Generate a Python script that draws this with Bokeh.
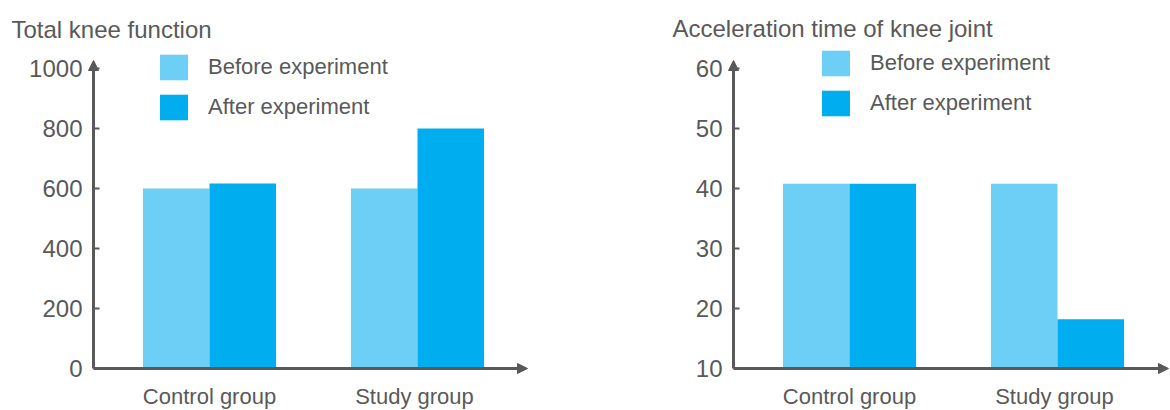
from bokeh.plotting import figure
from bokeh.layouts import row
from bokeh.models import (Range1d, FixedTicker, Arrow, NormalHead, Label, Legend,
                          LegendItem, ColumnDataSource)
from bokeh.transform import dodge
from bokeh.embed import file_html
from bokeh.resources import INLINE

# ---------------- data ----------------
categories = ["Control group", "Study  group"]
series = ["Before experiment", "After experiment"]
knee_before = [600, 600]
knee_after = [617, 800]
accel_before = [40.8, 40.8]
accel_after = [40.8, 18.2]
knee_ticks = [0, 200, 400, 600, 800, 1000]
accel_ticks = [10, 20, 30, 40, 50, 60]
titles = ["Total knee function", "Acceleration time of knee joint"]

# ---------------- style / layout ----------------
GRAY = "#595959"
C_BEFORE = "#6DCFF6"
C_AFTER = "#00AEEF"
FONT = "Liberation Sans"
H = 410
BASE_PY = 368          # pixel row of the category axis
PX_PER_CAT = 208.0
CAT0_OFFSET = 116.0    # px from value axis to first category centre


def make_chart(title, before, after, ticks, width, axis_px, px_per_unit,
               arrow_tip_py, arrow_tip_px, legend_xy, title_xy):
    # whole canvas is the frame; axes are placed with fixed_location
    cat0_px = axis_px + CAT0_OFFSET
    x0 = -cat0_px / PX_PER_CAT
    x1 = (width - cat0_px) / PX_PER_CAT
    ybase = ticks[0]
    y0 = ybase - (H - BASE_PY) / px_per_unit
    y1 = ybase + BASE_PY / px_per_unit
    xa = -CAT0_OFFSET / PX_PER_CAT  # value-axis position in data units

    p = figure(width=width, height=H, output_backend="svg", toolbar_location=None,
               x_range=Range1d(x0, x1), y_range=Range1d(y0, y1),
               min_border=0, min_border_left=0, min_border_right=0,
               min_border_top=0, min_border_bottom=0)
    p.outline_line_color = None
    p.xgrid.visible = False
    p.ygrid.visible = False
    p.background_fill_color = "white"
    p.border_fill_color = "white"

    idx = list(range(len(categories)))
    src = ColumnDataSource(dict(x=idx, before=before, after=after))
    r1 = p.vbar(x=dodge("x", -0.16, range=p.x_range), top="before", bottom=ybase,
                width=0.32, source=src, fill_color=C_BEFORE, line_color=None)
    r2 = p.vbar(x=dodge("x", 0.16, range=p.x_range), top="after", bottom=ybase,
                width=0.32, source=src, fill_color=C_AFTER, line_color=None)

    # value axis
    yax = p.yaxis[0]
    yax.fixed_location = xa
    yax.ticker = FixedTicker(ticks=ticks)
    yax.axis_line_color = None
    yax.major_tick_in = 6
    yax.major_tick_out = 0
    yax.major_tick_line_width = 2
    yax.major_tick_line_color = GRAY
    yax.minor_tick_line_color = None
    yax.major_label_standoff = 11
    yax.major_label_text_font = FONT
    yax.major_label_text_font_size = "24px"
    yax.major_label_text_color = GRAY

    # category axis
    xax = p.xaxis[0]
    xax.fixed_location = ybase
    xax.ticker = FixedTicker(ticks=idx)
    xax.major_label_overrides = {i: c for i, c in enumerate(categories)}
    xax.axis_line_color = None
    xax.major_tick_line_color = None
    xax.minor_tick_line_color = None
    xax.major_label_standoff = 9
    xax.major_label_text_font = FONT
    xax.major_label_text_font_size = "22px"
    xax.major_label_text_color = GRAY

    # axis lines with arrow heads
    tip_y = ybase + (BASE_PY - arrow_tip_py) / px_per_unit
    tip_x = (arrow_tip_px - cat0_px) / PX_PER_CAT
    for (xe, ye) in [(xa, tip_y), (tip_x, ybase)]:
        p.add_layout(Arrow(end=NormalHead(size=10, fill_color=GRAY, line_color=GRAY, line_width=1),
                           x_start=xa, y_start=ybase, x_end=xe, y_end=ye,
                           line_color=GRAY, line_width=3))

    legend = Legend(items=[LegendItem(label=series[0], renderers=[r1]),
                           LegendItem(label=series[1], renderers=[r2])],
                    location=legend_xy, orientation="vertical",
                    glyph_width=35, glyph_height=32, spacing=8, padding=0, margin=0,
                    label_standoff=17, border_line_color=None, background_fill_alpha=0,
                    label_text_font=FONT, label_text_font_size="22px",
                    label_text_color=GRAY, label_text_baseline="middle")
    p.add_layout(legend)

    p.add_layout(Label(x=title_xy[0], y=H - title_xy[1], x_units="screen", y_units="screen",
                       text=title, text_font=FONT, text_font_size="24px",
                       text_color=GRAY, text_baseline="alphabetic"))
    return p


p1 = make_chart(titles[0], knee_before, knee_after, knee_ticks,
                width=600, axis_px=93, px_per_unit=0.3,
                arrow_tip_py=60, arrow_tip_px=527,
                legend_xy=(156, 287), title_xy=(11, 29))
p2 = make_chart(titles[1], accel_before, accel_after, accel_ticks,
                width=570, axis_px=133, px_per_unit=6.0,
                arrow_tip_py=60, arrow_tip_px=568,
                legend_xy=(218, 291), title_xy=(72, 28))

layout = row(p1, p2)
open("out.html", "w").write(file_html(layout, INLINE))
